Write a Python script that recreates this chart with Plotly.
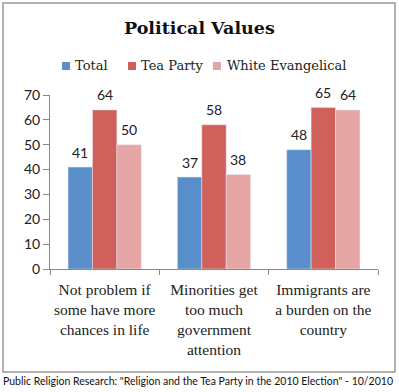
import plotly.graph_objects as go

categories = ["Not problem if<br>some have more<br>chances in life",
              "Minorities get<br>too much<br>government<br>attention",
              "Immigrants are<br>a burden on the<br>country"]
series_names = ["Total", "Tea Party", "White Evangelical"]
total = [41, 37, 48]
tea_party = [64, 58, 65]
white_evangelical = [50, 38, 64]
colors = ["#5A8ECB", "#CF605C", "#E6A6A5"]
y_ticks = [0, 10, 20, 30, 40, 50, 60, 70]

L, R, T, B = 50, 21, 95, 123
W, H = 399, 392
pw = W - L - R
ph = H - T - B
BARGAP = 0.33
bar_px = pw / len(categories) * (1 - BARGAP) / len(series_names)

def px_x(x):
    return (x - L) / pw

def px_y(y):
    return (H - B - y) / ph

fig = go.Figure()
annotations = []
for i, (name, vals, col) in enumerate(zip(series_names, [total, tea_party, white_evangelical], colors)):
    fig.add_trace(go.Bar(name=name, x=categories, y=vals, marker_color=col, showlegend=False))
    for c, v in zip(categories, vals):
        annotations.append(dict(x=c, y=v, xref="x", yref="y", text=str(v), showarrow=False,
                                xshift=(i - 1) * bar_px, yshift=15, yanchor="middle",
                                font=dict(family="Lato", size=14, color="#222222")))

# manual legend (compact, like the reference)
legend_pos = [(62, 73), (128, 139), (213, 225)]
shapes = [dict(type="rect", xref="paper", yref="paper",
               x0=px_x(3), x1=px_x(395), y0=px_y(372), y1=px_y(3),
               line=dict(color="#999999", width=1.5))]
for (sx, tx), name, col in zip(legend_pos, series_names, colors):
    shapes.append(dict(type="rect", xref="paper", yref="paper",
                       x0=px_x(sx), x1=px_x(sx + 8), y0=px_y(70), y1=px_y(62),
                       fillcolor=col, line=dict(width=0)))
    annotations.append(dict(text=name, xref="paper", yref="paper", x=px_x(tx), y=px_y(66),
                            xanchor="left", yanchor="middle", showarrow=False,
                            font=dict(family="DejaVu Serif", size=13, color="#222222")))

annotations += [
    dict(text="<b>Political Values</b>", xref="paper", yref="paper",
         x=px_x(199), y=px_y(28), xanchor="center", yanchor="middle", showarrow=False,
         font=dict(family="DejaVu Serif", size=17.5, color="#111111")),
    dict(text="Public Religion Research: \"Religion and the Tea Party in the 2010 Election\" - 10/2010",
         xref="paper", yref="paper", x=px_x(198), y=px_y(381), xanchor="center",
         yanchor="middle", showarrow=False,
         font=dict(family="Lato", size=10.5, color="#111111")),
]

fig.update_layout(
    width=W, height=H,
    margin=dict(l=L, r=R, t=T, b=B),
    paper_bgcolor="white", plot_bgcolor="white",
    barmode="group", bargap=BARGAP, bargroupgap=0,
    showlegend=False,
    xaxis=dict(showline=True, linecolor="#888888", ticks="outside", tickson="boundaries",
               ticklen=5, tickcolor="#888888", tickangle=0, automargin=False,
               ticklabelstandoff=6,
               tickfont=dict(family="Liberation Serif", size=15.5, color="#222222"), showgrid=False),
    yaxis=dict(range=[0, 70], tickvals=y_ticks, showline=True, linecolor="#888888",
               ticks="outside", ticklen=6, tickcolor="#888888", showgrid=False, zeroline=False,
               automargin=False,
               tickfont=dict(family="Lato", size=14, color="#222222")),
    annotations=annotations,
    shapes=shapes,
)

fig.write_html("out.html", config={"displayModeBar": False},
               post_script="document.body.style.margin='0';")
